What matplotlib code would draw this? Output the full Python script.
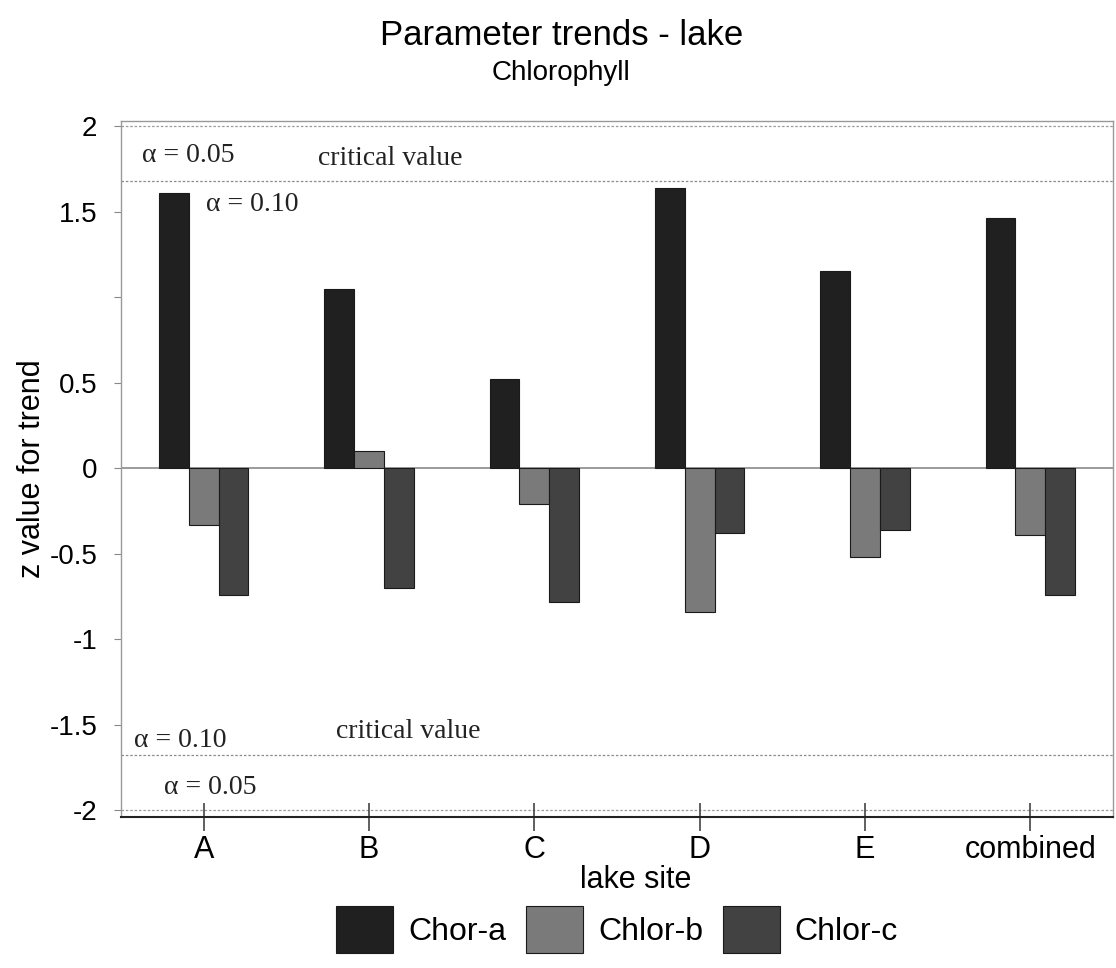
import matplotlib
matplotlib.use("Agg")
import matplotlib.pyplot as plt
import numpy as np

sites = ["A", "B", "C", "D", "E", "combined"]
chlor_a = [1.61, 1.05, 0.52, 1.64, 1.15, 1.46]
chlor_b = [-0.33, 0.10, -0.21, -0.84, -0.52, -0.39]
chlor_c = [-0.74, -0.70, -0.78, -0.38, -0.36, -0.74]
series_names = ["Chor-a", "Chlor-b", "Chlor-c"]
yticks = [-2, -1.5, -1, -0.5, 0, 0.5, 1, 1.5, 2]
ytick_labels = ["-2", "-1.5", "-1", "-0.5", "0", "0.5", "", "1.5", "2"]
crit_upper = 1.68
crit_lower = -1.68

SANS = "Liberation Sans"
SERIF = "Liberation Serif"

fig = plt.figure(figsize=(11.16, 9.68), dpi=100)
ax = fig.add_axes([0.1084, 0.156, 0.8889, 0.719])

x = np.arange(len(sites))
w = 0.18
colors = ["#202020", "#7a7a7a", "#424242"]
for i, (vals, name) in enumerate(zip([chlor_a, chlor_b, chlor_c], series_names)):
    ax.bar(x + (i - 1) * w, vals, width=w, color=colors[i], edgecolor="#1a1a1a",
           linewidth=0.8, label=name, zorder=3)

ax.set_xlim(-0.5, 5.5)
ax.set_ylim(-2.04, 2.03)

# reference lines
ax.axhline(0, color="#8a8a8a", lw=1.2, zorder=2)
for yv in [2, -2]:
    ax.axhline(yv, color="#9a9a9a", lw=0.9, ls=(0, (2, 1.5)), zorder=1)
for yv in [crit_upper, crit_lower]:
    ax.axhline(yv, color="#8a8a8a", lw=0.9, ls=(0, (2, 1.5)), zorder=1)

# annotations
tfs = 20
ax.text(-0.374, 1.83, "α = 0.05", family=SERIF, fontsize=tfs, va="center", ha="left", color="#222")
ax.text(0.694, 1.81, "critical value", family=SERIF, fontsize=tfs, va="center", ha="left", color="#222")
ax.text(0.012, 1.54, "α = 0.10", family=SERIF, fontsize=tfs, va="center", ha="left", color="#222")
ax.text(-0.42, -1.59, "α = 0.10", family=SERIF, fontsize=tfs, va="center", ha="left", color="#222")
ax.text(0.80, -1.54, "critical value", family=SERIF, fontsize=tfs, va="center", ha="left", color="#222")
ax.text(-0.24, -1.87, "α = 0.05", family=SERIF, fontsize=tfs, va="center", ha="left", color="#222")

# ticks
ax.set_xticks(x)
ax.set_xticklabels(sites, family=SANS, fontsize=22)
ax.set_yticks(yticks)
ax.set_yticklabels(ytick_labels, family=SANS, fontsize=20)
ax.tick_params(axis="x", direction="inout", length=20, width=1.2, pad=3, color="#444")
ax.tick_params(axis="y", direction="out", length=5, width=0.8, pad=12, color="#888")

for s in ["top", "right", "left"]:
    ax.spines[s].set_color("#999999")
    ax.spines[s].set_linewidth(1.0)
ax.spines["bottom"].set_color("#222222")
ax.spines["bottom"].set_linewidth(1.5)

# titles and labels
fig.text(0.503, 0.963, "Parameter trends - lake", family=SANS, fontsize=25, ha="center", va="center")
fig.text(0.503, 0.925, "Chlorophyll", family=SANS, fontsize=20, ha="center", va="center")
fig.text(0.570, 0.091, "lake site", family=SANS, fontsize=22, ha="center", va="center")
fig.text(0.029, 0.516, "z value for trend", family=SANS, fontsize=22, ha="center", va="center", rotation=90)

fig.legend(loc="upper center", bbox_to_anchor=(0.553, 0.064), ncol=3, frameon=False,
           prop={"family": SANS, "size": 23}, handlelength=1.78, handleheight=1.9,
           handletextpad=0.47, columnspacing=0.62, borderpad=0, borderaxespad=0)

fig.savefig("out.png", dpi=100)
